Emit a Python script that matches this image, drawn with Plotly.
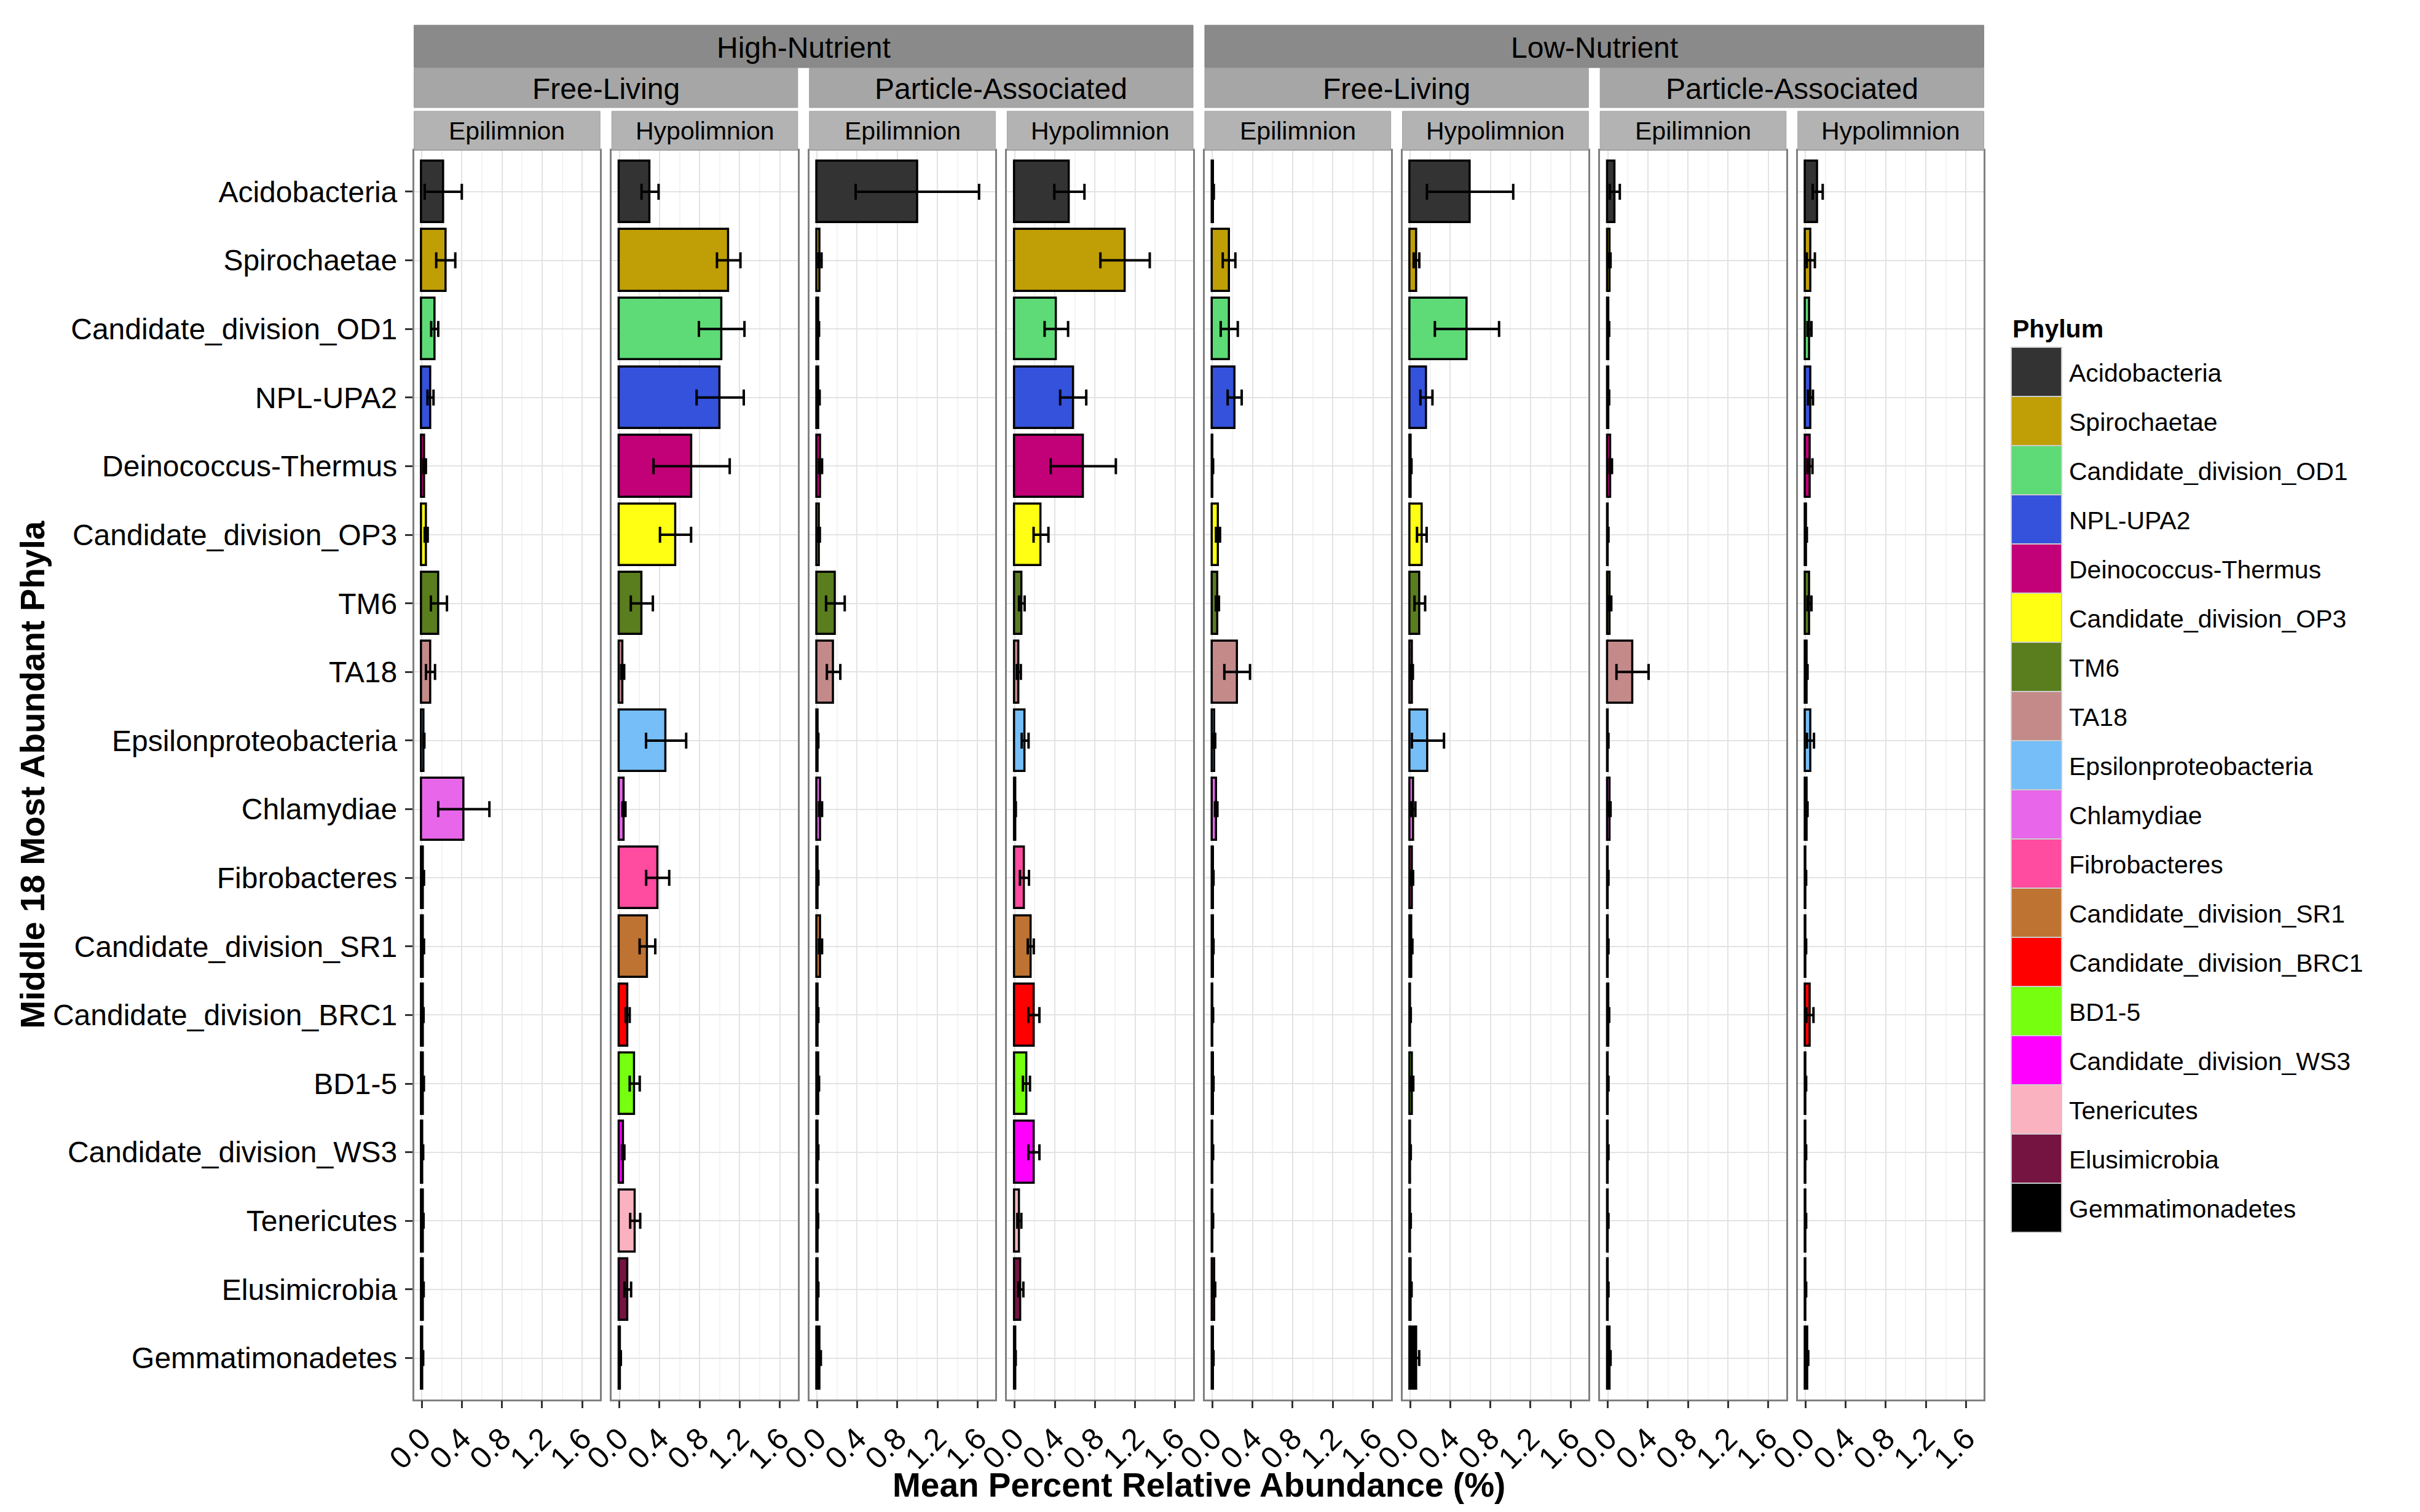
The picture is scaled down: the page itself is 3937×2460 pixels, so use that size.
import plotly.graph_objects as go

# phyla, top to bottom
phyla = [
    "Acidobacteria", "Spirochaetae", "Candidate_division_OD1", "NPL-UPA2",
    "Deinococcus-Thermus", "Candidate_division_OP3", "TM6", "TA18",
    "Epsilonproteobacteria", "Chlamydiae", "Fibrobacteres", "Candidate_division_SR1",
    "Candidate_division_BRC1", "BD1-5", "Candidate_division_WS3", "Tenericutes",
    "Elusimicrobia", "Gemmatimonadetes",
]
phylum_colors = [
    "#333333", "#C09F06", "#5EDB76", "#3452DB", "#C20078", "#FFFF14",
    "#5A7D1E", "#C48A8A", "#75BEF7", "#E766EA", "#FF4BA0", "#BF7332",
    "#FF0000", "#76FF0F", "#FF00FF", "#FBB2C0", "#751341", "#000000",
]

# panel facets
nutrient = ["High-Nutrient"] * 4 + ["Low-Nutrient"] * 4
fraction = ["Free-Living", "Free-Living", "Particle-Associated", "Particle-Associated"] * 2
layer = ["Epilimnion", "Hypolimnion"] * 4

# mean percent relative abundance and error per panel
hi_fl_epi = [0.215, 0.24, 0.13, 0.088, 0.03, 0.045, 0.172, 0.088, 0.022, 0.42, 0.018, 0.018, 0.015, 0.017, 0.012, 0.015, 0.015, 0.012]
hi_fl_epi_se = [0.185, 0.095, 0.035, 0.03, 0.012, 0.015, 0.08, 0.045, 0.005, 0.255, 0.005, 0.005, 0.004, 0.005, 0.003, 0.004, 0.005, 0.003]
hi_fl_hypo = [0.306, 1.09, 1.02, 1.005, 0.72, 0.56, 0.224, 0.033, 0.466, 0.046, 0.382, 0.28, 0.083, 0.153, 0.038, 0.158, 0.084, 0.012]
hi_fl_hypo_se = [0.085, 0.117, 0.227, 0.235, 0.38, 0.155, 0.11, 0.015, 0.2, 0.015, 0.115, 0.078, 0.02, 0.05, 0.012, 0.05, 0.033, 0.003]
hi_pa_epi = [1.0, 0.03, 0.015, 0.018, 0.035, 0.02, 0.183, 0.165, 0.01, 0.035, 0.01, 0.035, 0.01, 0.015, 0.01, 0.008, 0.01, 0.03]
hi_pa_epi_se = [0.615, 0.015, 0.005, 0.008, 0.015, 0.008, 0.093, 0.067, 0.003, 0.015, 0.003, 0.015, 0.003, 0.005, 0.003, 0.003, 0.003, 0.008]
hi_pa_hypo = [0.545, 1.1, 0.415, 0.583, 0.683, 0.262, 0.071, 0.041, 0.104, 0.008, 0.097, 0.16, 0.191, 0.117, 0.191, 0.046, 0.061, 0.008]
hi_pa_hypo_se = [0.15, 0.246, 0.117, 0.13, 0.325, 0.074, 0.028, 0.02, 0.034, 0.003, 0.045, 0.03, 0.055, 0.035, 0.055, 0.02, 0.025, 0.002]
lo_fl_epi = [0.01, 0.166, 0.168, 0.222, 0.005, 0.056, 0.05, 0.247, 0.02, 0.038, 0.008, 0.008, 0.005, 0.008, 0.005, 0.005, 0.02, 0.008]
lo_fl_epi_se = [0.004, 0.063, 0.085, 0.07, 0.002, 0.02, 0.015, 0.128, 0.008, 0.012, 0.003, 0.003, 0.002, 0.003, 0.002, 0.002, 0.008, 0.003]
lo_fl_hypo = [0.598, 0.064, 0.567, 0.163, 0.01, 0.117, 0.097, 0.02, 0.178, 0.033, 0.02, 0.015, 0.005, 0.02, 0.005, 0.005, 0.01, 0.066]
lo_fl_hypo_se = [0.43, 0.028, 0.32, 0.06, 0.004, 0.048, 0.053, 0.008, 0.16, 0.02, 0.01, 0.008, 0.002, 0.012, 0.002, 0.002, 0.005, 0.025]
lo_pa_epi = [0.07, 0.02, 0.01, 0.01, 0.03, 0.005, 0.025, 0.247, 0.005, 0.02, 0.005, 0.005, 0.01, 0.005, 0.005, 0.005, 0.005, 0.02]
lo_pa_epi_se = [0.05, 0.008, 0.004, 0.004, 0.012, 0.002, 0.01, 0.16, 0.002, 0.008, 0.002, 0.002, 0.004, 0.002, 0.002, 0.002, 0.002, 0.008]
lo_pa_hypo = [0.122, 0.054, 0.04, 0.05, 0.045, 0.01, 0.04, 0.015, 0.05, 0.015, 0.005, 0.005, 0.045, 0.005, 0.005, 0.005, 0.005, 0.02]
lo_pa_hypo_se = [0.05, 0.04, 0.02, 0.025, 0.025, 0.004, 0.02, 0.006, 0.035, 0.006, 0.002, 0.002, 0.035, 0.002, 0.002, 0.002, 0.002, 0.008]

x_ticks = [0.0, 0.4, 0.8, 1.2, 1.6]
x_tick_labels = ["0.0", "0.4", "0.8", "1.2", "1.6"]

panels = [
    (hi_fl_epi, hi_fl_epi_se), (hi_fl_hypo, hi_fl_hypo_se),
    (hi_pa_epi, hi_pa_epi_se), (hi_pa_hypo, hi_pa_hypo_se),
    (lo_fl_epi, lo_fl_epi_se), (lo_fl_hypo, lo_fl_hypo_se),
    (lo_pa_epi, lo_pa_epi_se), (lo_pa_hypo, lo_pa_hypo_se),
]

# page geometry (pixels of the target picture)
W, H = 3921, 2444
OFF = 8
FONT = "Liberation Sans"
P_LEFT, P_STEP, P_W = 673.6, 321.6, 302.6
P_TOP, P_BOT = 245, 2276.5


def px(x):
    return (x - OFF) / W


def py(y):
    return 1 - (y - OFF) / H


def label(x, y, text, size, xanchor="center", angle=0):
    return dict(x=px(x), y=py(y), xref="paper", yref="paper", text=text,
                showarrow=False, xanchor=xanchor, yanchor="middle", textangle=angle,
                font=dict(size=size, color="black", family=FONT))


fig = go.Figure()
shapes = []
annotations = []

for i, (means, errs) in enumerate(panels):
    n = "" if i == 0 else str(i + 1)
    fig.add_trace(
        go.Bar(
            x=means,
            y=phyla,
            orientation="h",
            width=0.9,
            marker=dict(color=phylum_colors, line=dict(color="black", width=3.5)),
            error_x=dict(type="data", array=errs, color="black", thickness=4, width=13),
            xaxis="x" + n,
            yaxis="y" + n,
            showlegend=False,
        )
    )
    x0 = P_LEFT + i * P_STEP
    x1 = x0 + P_W
    fig.update_layout(
        {
            "xaxis" + n: dict(
                domain=[px(x0), px(x1)],
                anchor="y" + n,
                automargin=False,
                range=[-0.076, 1.778],
                tickvals=x_ticks,
                ticktext=x_tick_labels,
                tickangle=-45,
                tickfont=dict(size=50, color="black", family=FONT),
                ticks="outside",
                ticklen=12,
                tickwidth=2.5,
                tickcolor="#333333",
                showgrid=True,
                gridcolor="#e3e3e3",
                gridwidth=2,
                minor=dict(tickvals=[0.2, 0.6, 1.0, 1.4], showgrid=True,
                           gridcolor="#f3f3f3", gridwidth=2, ticks=""),
                zeroline=False,
                showline=True,
                mirror=True,
                linecolor="#808080",
                linewidth=2.5,
            ),
            "yaxis" + n: dict(
                domain=[py(P_BOT), py(P_TOP)],
                anchor="x" + n,
                automargin=False,
                type="category",
                categoryorder="array",
                categoryarray=phyla,
                range=[len(phyla) - 0.4, -0.6],
                showticklabels=(i == 0),
                tickfont=dict(size=48, color="black", family=FONT),
                ticks="outside" if i == 0 else "",
                ticklen=12,
                tickwidth=2.5,
                tickcolor="#333333",
                ticklabelstandoff=3,
                showgrid=True,
                gridcolor="#e3e3e3",
                gridwidth=2,
                zeroline=False,
                showline=True,
                mirror=True,
                linecolor="#808080",
                linewidth=2.5,
            ),
        }
    )
    # layer strip
    shapes.append(dict(type="rect", xref="paper", yref="paper",
                       x0=px(x0), x1=px(x1), y0=py(244), y1=py(181),
                       fillcolor="#b3b3b3", line=dict(color="#a0a0a0", width=1)))
    annotations.append(label((x0 + x1) / 2, 213, layer[i], 41))

# fraction strips (pairs of panels)
for j in range(0, 8, 2):
    x0 = P_LEFT + j * P_STEP
    x1 = x0 + P_STEP + P_W
    shapes.append(dict(type="rect", xref="paper", yref="paper",
                       x0=px(x0), x1=px(x1), y0=py(175), y1=py(111),
                       fillcolor="#a6a6a6", line=dict(color="#999999", width=1)))
    annotations.append(label((x0 + x1) / 2, 144, fraction[j], 48))

# nutrient strips (four panels)
for j in range(0, 8, 4):
    x0 = P_LEFT + j * P_STEP
    x1 = x0 + 3 * P_STEP + P_W
    shapes.append(dict(type="rect", xref="paper", yref="paper",
                       x0=px(x0), x1=px(x1), y0=py(110), y1=py(41),
                       fillcolor="#8a8a8a", line=dict(color="#808080", width=1)))
    annotations.append(label((x0 + x1) / 2, 77, nutrient[j], 48))

# legend drawn as ggplot-style keys
annotations.append(label(3272, 535, "<b>Phylum</b>", 41, xanchor="left"))
for k, (name, col) in enumerate(zip(phyla, phylum_colors)):
    top = 565 + k * 80
    shapes.append(dict(type="rect", xref="paper", yref="paper",
                       x0=px(3272), x1=px(3354), y0=py(top + 80), y1=py(top),
                       fillcolor=col, line=dict(color="#cccccc", width=2)))
    annotations.append(label(3364, top + 42, name, 41, xanchor="left"))

# axis titles
annotations.append(label((P_LEFT + 7 * P_STEP + P_W + P_LEFT) / 2, 2416,
                         "<b>Mean Percent Relative Abundance (%)</b>", 55))
annotations.append(label(53, (P_TOP + P_BOT) / 2,
                         "<b>Middle 18 Most Abundant Phyla</b>", 55, angle=-90))

fig.update_layout(
    width=W,
    height=H,
    margin=dict(l=0, r=0, t=0, b=0, autoexpand=False),
    paper_bgcolor="white",
    plot_bgcolor="white",
    showlegend=False,
    bargap=0,
    shapes=shapes,
    annotations=annotations,
    font=dict(family=FONT, color="black"),
)

fig.write_html("out.html")
